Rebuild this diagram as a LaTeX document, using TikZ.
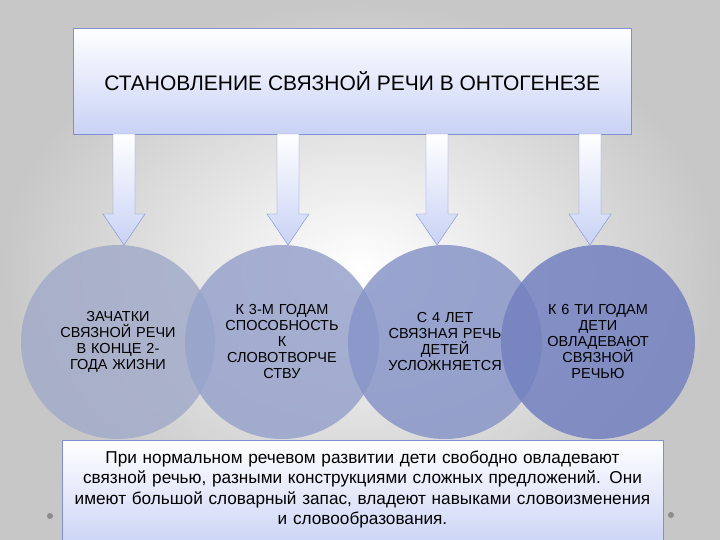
\documentclass[tikz,border=0pt]{standalone}
\usepackage{fontspec}
\setmainfont{Liberation Sans}
\definecolor{edge}{HTML}{7F8FCF}
\definecolor{pale}{HTML}{C9D2F5}
\definecolor{cA}{HTML}{A3ABC9}
\definecolor{cB}{HTML}{98A3CB}
\definecolor{cC}{HTML}{8895C8}
\definecolor{cD}{HTML}{7381C0}
\tikzset{
  ball/.style={circle,minimum size=194pt,inner sep=0pt,fill opacity=0.85,text opacity=1,align=center,font=\fontsize{14.5}{16}\selectfont,text width=140pt},
  arrowfill/.style={draw=edge,top color=white,bottom color=pale},
}
\newcommand{\blockarrow}[1]{\path[arrowfill] (#1-11,134) -- (#1+11,134) -- (#1+11,214) -- (#1+21,214) -- (#1,245) -- (#1-21,214) -- (#1-11,214) -- cycle;}
\begin{document}
\begin{tikzpicture}[x=1pt,y=-1pt]
\path[inner color=white,outer color=black!22] (0,0) rectangle (720,540);
\useasboundingbox (0,0) rectangle (720,540);
\node[draw=edge,top color=white,bottom color=pale,minimum width=558pt,minimum height=106pt,anchor=north west,font=\fontsize{21}{24}\selectfont] (title) at (73,28) {СТАНОВЛЕНИЕ СВЯЗНОЙ РЕЧИ В ОНТОГЕНЕЗЕ};
\blockarrow{124}
\blockarrow{288}
\blockarrow{437}
\blockarrow{590}
\node[ball,fill=cA] (c1) at (118,342) {ЗАЧАТКИ\\СВЯЗНОЙ РЕЧИ\\В КОНЦЕ 2-\\ГОДА ЖИЗНИ};
\node[ball,fill=cB] (c2) at (282,342) {К 3-М ГОДАМ\\СПОСОБНОСТЬ\\К\\СЛОВОТВОРЧЕ\\СТВУ};
\node[ball,fill=cC] (c3) at (445,342) {С 4 ЛЕТ\\СВЯЗНАЯ РЕЧЬ\\ДЕТЕЙ\\УСЛОЖНЯЕТСЯ};
\node[ball,fill=cD] (c4) at (598,342) {К 6 ТИ ГОДАМ\\ДЕТИ\\ОВЛАДЕВАЮТ\\СВЯЗНОЙ\\РЕЧЬЮ};
\node[draw=edge,top color=white,bottom color=pale,minimum width=601pt,minimum height=110pt,anchor=north west] (box) at (62,440) {};
\node[anchor=north,align=center,text width=598pt,font=\fontsize{17.2}{20.5}\selectfont] (txt) at (362.5,447) {При нормальном речевом развитии дети свободно овладевают\\связной речью, разными конструкциями сложных предложений. Они\\имеют большой словарный запас, владеют навыками словоизменения\\и словообразования.};
\fill[black!45] (50,516) circle (3pt) (671,515) circle (3pt);
\end{tikzpicture}
\end{document}
